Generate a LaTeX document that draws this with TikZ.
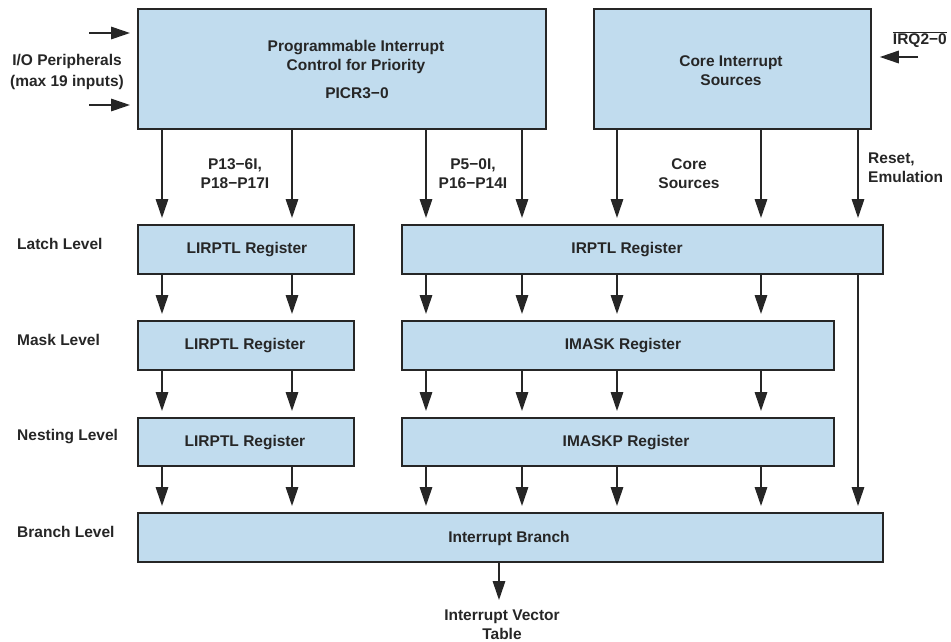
\documentclass[tikz,border=0pt]{standalone}
\usepackage{fontspec}
\setmainfont{Liberation Sans}
\usetikzlibrary{arrows.meta}
\definecolor{boxblue}{RGB}{193,220,238}
\definecolor{ink}{RGB}{38,38,38}
\newcommand{\ovltext}[1]{\ensuremath{\overline{\mbox{#1}}}}
\begin{document}
\begin{tikzpicture}[x=1pt,y=-1pt,
  blk/.style={draw=ink, line width=1.8pt, fill=boxblue, anchor=north west, inner sep=0pt},
  txt/.style={font=\fontsize{15.5}{19}\selectfont\bfseries, text=ink, align=center, inner sep=0pt, anchor=base},
  lvl/.style={font=\fontsize{15.5}{19}\selectfont\bfseries, text=ink, inner sep=0pt, anchor=base west},
  arr/.style={draw=ink, line width=1.6pt, -{Triangle[length=19pt,width=12.5pt]}, shorten >=6pt}]
\useasboundingbox (0,0) rectangle (951,641);

% boxes
\node[blk, minimum width=408pt, minimum height=120pt] (picr) at (137,8) {};
\node[blk, minimum width=277pt, minimum height=120pt] (core) at (593,8) {};
\node[blk, minimum width=216pt, minimum height=49pt] (latchL) at (137,224) {};
\node[blk, minimum width=481pt, minimum height=49pt] (irptl) at (401,224) {};
\node[blk, minimum width=216pt, minimum height=49pt] (maskL) at (137,320) {};
\node[blk, minimum width=432pt, minimum height=49pt] (imask) at (401,320) {};
\node[blk, minimum width=216pt, minimum height=48pt] (nestL) at (137,417) {};
\node[blk, minimum width=432pt, minimum height=48pt] (imaskp) at (401,417) {};
\node[blk, minimum width=745pt, minimum height=49pt] (branch) at (137,512) {};

% box texts (base = baseline of last line)
\node[txt] (tpicr) at (356,70.5) {Programmable Interrupt\\Control for Priority};
\node[txt] (tpicr2) at (357,98.5) {PICR3−0};
\node[txt] (tcore) at (731,85.5) {Core Interrupt\\Sources};
\node[txt] (tlatchL) at (247,253.5) {LIRPTL Register};
\node[txt] (tirptl) at (627,253) {IRPTL Register};
\node[txt] (tmaskL) at (245,349.5) {LIRPTL Register};
\node[txt] (timask) at (623,349.5) {IMASK Register};
\node[txt] (tnestL) at (245,446.5) {LIRPTL Register};
\node[txt] (timaskp) at (626,446.5) {IMASKP Register};
\node[txt] (tbranch) at (509,542) {Interrupt Branch};

% side labels
\node[txt, font=\fontsize{15.5}{21.5}\selectfont\bfseries] (io) at (67,86.5) {I/O Peripherals\\(max 19 inputs)};
\node[txt, anchor=base east] (irq) at (947,44) {\ovltext{IRQ2−0}};
\node[txt] (lp1) at (235,188.5) {P13−6I,\\P18−P17I};
\node[txt] (lp2) at (473,188.5) {P5−0I,\\P16−P14I};
\node[txt] (lcs) at (689,188.5) {Core\\Sources};
\node[txt, anchor=base west, align=left] (lre) at (868,182.5) {Reset,\\Emulation};
\node[lvl] (llatch) at (17,249.5) {Latch Level};
\node[lvl] (lmask) at (17,345) {Mask Level};
\node[lvl] (lnest) at (17,440.5) {Nesting Level};
\node[lvl] (lbranch) at (17,537.5) {Branch Level};
\node[txt] (ivt) at (502,639) {Interrupt Vector\\Table};

% column coordinates
\coordinate (ca) at (162,0);
\coordinate (cb) at (292,0);
\coordinate (cc) at (426,0);
\coordinate (cd) at (522,0);
\coordinate (ce) at (617,0);
\coordinate (cf) at (761,0);
\coordinate (cg) at (858,0);
\coordinate (cv) at (499,0);
\coordinate (io1) at (89,33);
\coordinate (io2) at (89,105);
\coordinate (irqs) at (918,57);
\coordinate (ivtc) at (499,600);

% arrows
\draw[arr, shorten >=7pt] (io1) -- (io1 -| picr.west);
\draw[arr, shorten >=7pt] (io2) -- (io2 -| picr.west);
\draw[arr, shorten >=8pt] (irqs) -- (irqs -| core.east);
\foreach \c in {ca,cb} {
  \draw[arr] (picr.south -| \c) -- (latchL.north -| \c);
  \draw[arr] (latchL.south -| \c) -- (maskL.north -| \c);
  \draw[arr] (maskL.south -| \c) -- (nestL.north -| \c);
  \draw[arr] (nestL.south -| \c) -- (branch.north -| \c);
}
\foreach \c in {cc,cd} {
  \draw[arr] (picr.south -| \c) -- (irptl.north -| \c);
}
\foreach \c in {ce,cf,cg} {
  \draw[arr] (core.south -| \c) -- (irptl.north -| \c);
}
\foreach \c in {cc,cd,ce,cf} {
  \draw[arr] (irptl.south -| \c) -- (imask.north -| \c);
  \draw[arr] (imask.south -| \c) -- (imaskp.north -| \c);
  \draw[arr] (imaskp.south -| \c) -- (branch.north -| \c);
}
\draw[arr] (irptl.south -| cg) -- (branch.north -| cg);
\draw[arr, shorten >=0pt] (branch.south -| cv) -- (ivtc);
\end{tikzpicture}
\end{document}
